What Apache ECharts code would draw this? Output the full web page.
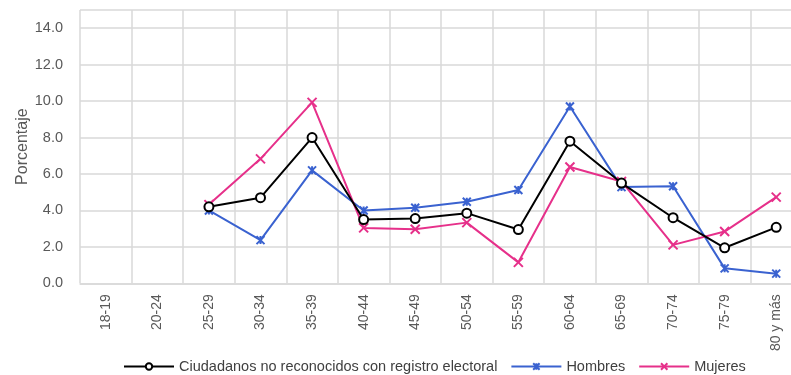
<!DOCTYPE html>
<html>
<head>
<meta charset="utf-8">
<script src="https://cdn.jsdelivr.net/npm/echarts@6/dist/echarts.min.js"></script>
<style>
html,body{margin:0;padding:0;background:#fff;overflow:hidden;width:791px;height:375px;}
#chart{width:802px;height:375px;}
</style>
</head>
<body>
<div id="chart"></div>
<script>
const categories = ['18-19','20-24','25-29','30-34','35-39','40-44','45-49','50-54','55-59','60-64','65-69','70-74','75-79','80 y más'];
const ciudadanos = [null, null, 4.2, 4.7, 8.0, 3.5, 3.55, 3.85, 2.95, 7.8, 5.5, 3.6, 1.95, 3.07];
const hombres = [null, null, 4.0, 2.37, 6.2, 4.0, 4.15, 4.48, 5.12, 9.7, 5.28, 5.33, 0.82, 0.53];
const mujeres = [null, null, 4.32, 6.83, 9.93, 3.04, 2.97, 3.33, 1.15, 6.38, 5.59, 2.11, 2.84, 4.73];
const yTicks = {min: 0, max: 15, interval: 2};

const FONT = "'Liberation Sans', Arial, sans-serif";
const GRID = '#d9d9d9';
const BLUE = '#3a62d0';
const PINK = '#e6308a';

const chart = echarts.init(document.getElementById('chart'), null, {renderer: 'canvas'});
chart.setOption({
  animation: false,
  backgroundColor: '#fff',
  textStyle: {fontFamily: FONT},
  grid: {left: 80, top: 10, right: 0, height: 273.3, containLabel: false},
  legend: {
    left: 118, top: 354,
    itemWidth: 50, itemHeight: 8, itemGap: 13,
    textStyle: {fontFamily: FONT, fontSize: 14.5, color: '#404040'},
    data: ['Ciudadanos no reconocidos con registro electoral', 'Hombres', 'Mujeres']
  },
  xAxis: {
    type: 'category',
    data: categories,
    boundaryGap: true,
    axisLine: {show: true, lineStyle: {color: GRID, width: 1.5}},
    axisTick: {show: false},
    splitLine: {show: true, lineStyle: {color: GRID, width: 1.5}},
    axisLabel: {rotate: 90, margin: 11, fontSize: 14, color: '#595959', fontFamily: FONT, interval: 0}
  },
  yAxis: {
    type: 'value',
    min: yTicks.min, max: yTicks.max, interval: yTicks.interval,
    name: 'Porcentaje',
    nameLocation: 'middle',
    nameGap: 49,
    nameMoveOverlap: false,
    nameTextStyle: {fontSize: 16, color: '#595959', fontFamily: FONT},
    axisLine: {show: false},
    axisTick: {show: false},
    splitLine: {show: true, lineStyle: {color: GRID, width: 1.5}},
    axisLabel: {
      fontSize: 14.5, color: '#595959', fontFamily: FONT, margin: 17,
      formatter: v => (v > 14 ? '' : v.toFixed(1))
    }
  },
  series: [
    {
      name: 'Ciudadanos no reconocidos con registro electoral',
      type: 'line',
      data: ciudadanos,
      symbol: 'emptyCircle',
      symbolSize: 9,
      lineStyle: {color: '#000', width: 2},
      itemStyle: {color: '#000', borderColor: '#000', borderWidth: 2},
      z: 3
    },
    {
      name: 'Hombres',
      type: 'line',
      data: hombres,
      symbol: 'path://M0,0L10,10M10,0L0,10M5,0L5,10',
      symbolSize: 8,
      lineStyle: {color: BLUE, width: 2},
      itemStyle: {color: BLUE, borderColor: BLUE, borderWidth: 2},
      z: 2
    },
    {
      name: 'Mujeres',
      type: 'line',
      data: mujeres,
      symbol: 'path://M0,0L10,10M10,0L0,10',
      symbolSize: 9,
      lineStyle: {color: PINK, width: 2},
      itemStyle: {color: PINK, borderColor: PINK, borderWidth: 2},
      z: 2
    }
  ]
});
</script>
</body>
</html>
